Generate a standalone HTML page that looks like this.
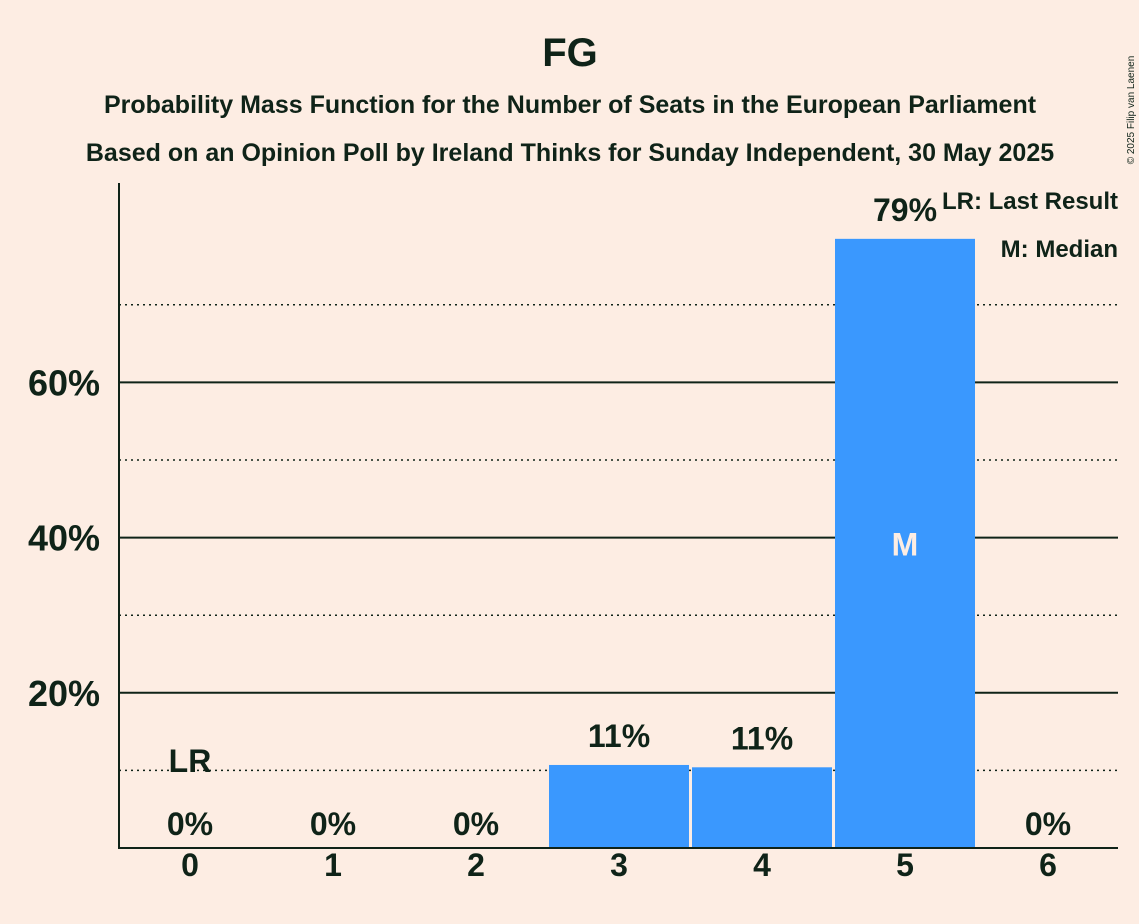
<!DOCTYPE html>
<html><head><meta charset="utf-8"><style>
html,body{margin:0;padding:0;background:#fdede3;}
svg{display:block;font-family:"Liberation Sans",sans-serif;}
</style></head><body>
<svg id="chart" width="1139" height="924">
<rect width="1139" height="924" fill="#fdede3"/>
<text x="570" y="66" text-anchor="middle" font-size="40" font-weight="bold" fill="#0f2318">FG</text>
<text x="570" y="113" text-anchor="middle" font-size="25" font-weight="bold" fill="#0f2318">Probability Mass Function for the Number of Seats in the European Parliament</text>
<text x="570" y="161" text-anchor="middle" font-size="25" font-weight="bold" fill="#0f2318">Based on an Opinion Poll by Ireland Thinks for Sunday Independent, 30 May 2025</text>
<text x="1134" y="110" font-size="10" fill="#0f2318" transform="rotate(-90 1134 110)" text-anchor="middle">© 2025 Filip van Laenen</text>
<g id="grid"></g><g id="bars"></g><g id="labels"></g>
<line x1="119" y1="183" x2="119" y2="849" stroke="#0f2318" stroke-width="2"/>
<line x1="118" y1="848" x2="1118" y2="848" stroke="#0f2318" stroke-width="2"/>
<text x="1118" y="209" text-anchor="end" font-size="24" font-weight="bold" fill="#0f2318">LR: Last Result</text>
<text x="1118" y="257" text-anchor="end" font-size="24" font-weight="bold" fill="#0f2318">M: Median</text>
</svg>
<script>
const categories=[0,1,2,3,4,5,6];
const values=[0,0,0,10.7,10.4,78.5,0];
const valueLabels=["0%","0%","0%","11%","11%","79%","0%"];
const yTicks=[20,40,60];
const yMinor=[10,30,50,70];
const lastResult=0, median=5;
const NS="http://www.w3.org/2000/svg";
const y=v=>848-v*7.76;
const x=i=>190+143*i;
function mk(tag,attrs,parent,text){const e=document.createElementNS(NS,tag);for(const k in attrs)e.setAttribute(k,attrs[k]);if(text!==undefined)e.textContent=text;document.getElementById(parent).appendChild(e);return e;}
yMinor.forEach(v=>{const l=mk('line',{x1:119,x2:1118,y1:y(v),y2:y(v),stroke:'#0f2318','stroke-width':1.5,'stroke-dasharray':'2,4'},'grid');

});
yTicks.forEach(v=>{const l=mk('line',{x1:119,x2:1118,y1:y(v),y2:y(v),stroke:'#0f2318','stroke-width':2},'grid');


const t=mk('text',{x:100,y:y(v)+13,'text-anchor':'end','font-size':36,'font-weight':'bold',fill:'#0f2318'},'labels',v+'%');

});
categories.forEach((c,i)=>{
 if(values[i]>0){const b=mk('rect',{x:x(i)-70,y:y(values[i]),width:140,height:848-y(values[i]),fill:'#3a98fe'},'bars');
 
 }
 const lt=values[i]>0?y(values[i])-18:835;
 const t=mk('text',{x:x(i),y:lt,'text-anchor':'middle','font-size':32,'font-weight':'bold',fill:'#0f2318'},'labels',valueLabels[i]);
 
 
 const xt=mk('text',{x:x(i),y:876,'text-anchor':'middle','font-size':32,'font-weight':'bold',fill:'#0f2318'},'labels',String(c));
 
 
});
const lr=mk('text',{x:x(lastResult),y:772,'text-anchor':'middle','font-size':32,'font-weight':'bold',fill:'#0f2318'},'labels','LR');


const m=mk('text',{x:x(median),y:(y(values[median])+848)/2+12,'text-anchor':'middle','font-size':32,'font-weight':'bold',fill:'#fdede3'},'labels','M');


</script>
</body></html>
